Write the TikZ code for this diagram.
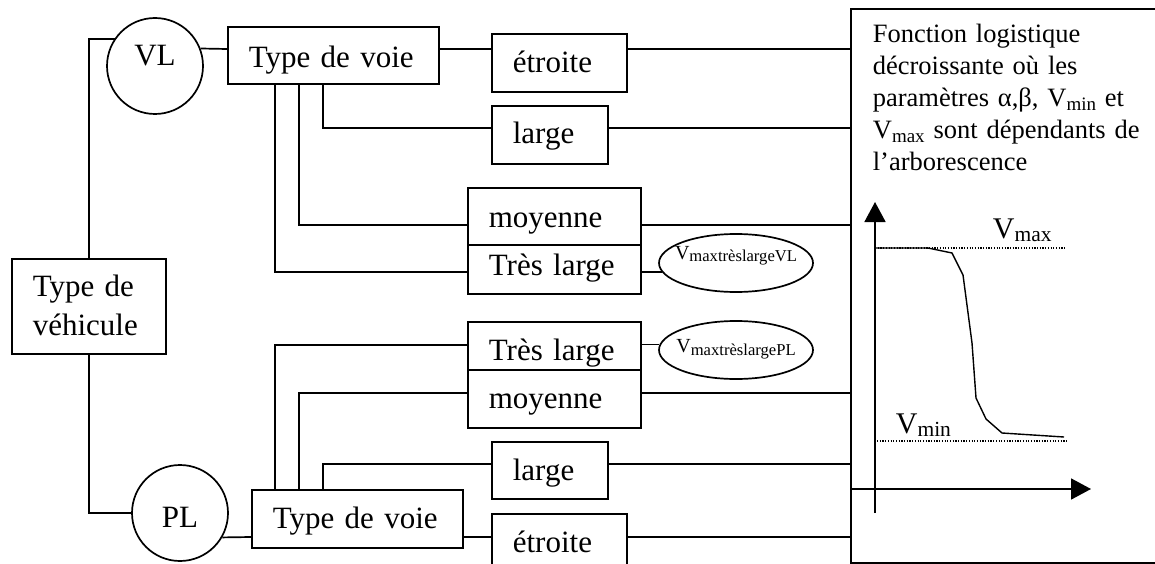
\documentclass[tikz,border=0pt]{standalone}
\usepackage{fontspec}
\setmainfont{Liberation Serif}
\usepackage{tikz}
\usetikzlibrary{arrows.meta,shapes.geometric,positioning,calc}
\newcommand{\fgrand}{\fontsize{31}{39}\selectfont}
\newcommand{\fmoyen}{\fontsize{26.5}{32}\selectfont}
\newcommand{\Vsub}[3]{{\fontsize{#1}{#1}\selectfont V\raisebox{-0.13em}{\fontsize{#2}{#2}\selectfont #3}}}

\begin{document}
\begin{tikzpicture}[x=1pt,y=-1pt,line width=1.7pt,
    boite/.style={draw,anchor=north west,inner xsep=21pt,inner ysep=0pt,align=left,font=\fgrand},
    rond/.style={draw,circle,minimum size=96pt,inner sep=0pt,font=\fgrand},
    ovale/.style={draw,ellipse,minimum width=154pt,minimum height=58pt,inner xsep=-16pt,inner ysep=0pt},
    fleche/.style={-{Triangle[length=20pt,width=21pt]}},
    pointille/.style={line width=1.2pt,dash pattern=on 1.2pt off 1.5pt}]
  \useasboundingbox (0,0) rectangle (1155,564);
  \clip (0,0) rectangle (1155,564);

  % Vehicle type and the two classes
  \node[boite,text width=112pt,text height=38pt,text depth=57pt] (veh) at (11,258) {Type de\\véhicule};
  \node[rond,text height=21pt,text depth=21pt] (VL) at (155,66) {VL};
  \node[rond,text height=29pt,text depth=0pt] (PL) at (180,513) {PL};

  % Right-hand box (its right side lies beyond the page)
  \node[anchor=north west,minimum width=360pt,minimum height=552pt,inner sep=0pt] (fn) at (851,9) {};
  \draw (fn.north east) -- (fn.north west) -- (fn.south west) -- (fn.south east);
  \node[anchor=north west,inner sep=0pt,align=left,text width=275pt,text height=33pt,font=\fmoyen] (fntxt) at (872,9)
    {Fonction logistique\\décroissante où les\\paramètres α,β, \Vsub{26.5}{19}{min} et\\\Vsub{26.5}{19}{max} sont dépendants de\\l’arborescence};

  % VL branch
  \node[boite,text width=169pt,text height=41pt,text depth=16pt] (tdvVL) at (227,26) {Type de voie};
  \node[boite,text width=93pt,text height=39pt,text depth=19pt] (etVL) at (491,33) {étroite};
  \node[boite,text width=74pt,text height=38pt,text depth=20pt] (lgVL) at (491,105) {large};
  \node[boite,text width=131pt,text height=40pt,text depth=17pt] (moVL) at (467,187) {moyenne};
  \node[boite,text width=131pt,text height=31pt,text depth=18pt] (tlVL) at (467,244) {Très large};
  \node[ovale,text height=10pt,text depth=18pt] (eVL) at (736,263) {\Vsub{20}{16.6}{maxtrèslargeVL}};

  % PL branch
  \node[boite,text width=131pt,text height=39pt,text depth=9pt] (tlPL) at (467,321) {Très large};
  \node[boite,text width=131pt,text height=39pt,text depth=19pt] (moPL) at (467,369) {moyenne};
  \node[boite,text width=74pt,text height=39pt,text depth=18pt] (lgPL) at (491,441) {large};
  \node[boite,text width=169pt,text height=39pt,text depth=19pt] (tdvPL) at (251,489) {Type de voie};
  \node[boite,text width=93pt,text height=39pt,text depth=19pt] (etPL) at (491,513) {étroite};
  \node[ovale,text height=12pt,text depth=7pt] (ePL) at (736,350) {\Vsub{20}{16.6}{maxtrèslargePL}};

  % Rows of the connectors
  \coordinate (rEtVL) at (0,49);
  \coordinate (rLgVL) at (0,128);
  \coordinate (rMoVL) at (0,225);
  \coordinate (rTlVL) at (0,272);
  \coordinate (rTlPL) at (0,345);
  \coordinate (rMoPL) at (0,393);
  \coordinate (rLgPL) at (0,464);
  \coordinate (rEtPL) at (0,537);

  % Connectors
  \draw (veh.north) |- (VL.146);
  \draw (veh.south) |- (PL.west);
  \draw (VL.21) -- (tdvVL.west |- rEtVL);
  \draw (tdvVL.east |- rEtVL) -- (etVL.west |- rEtVL);
  \draw ([xshift=96pt]tdvVL.south west) |- (lgVL.west |- rLgVL);
  \draw ([xshift=72pt]tdvVL.south west) |- (moVL.west |- rMoVL);
  \draw ([xshift=48pt]tdvVL.south west) |- (tlVL.west |- rTlVL);
  \draw (tlVL.east |- eVL.187) -- (eVL.187);
  \draw (PL.-30) -- (tdvPL.west |- rEtPL);
  \draw (tdvPL.east |- rEtPL) -- (etPL.west |- rEtPL);
  \draw ([xshift=24pt]tdvPL.north west) |- (tlPL.west |- rTlPL);
  \draw ([xshift=48pt]tdvPL.north west) |- (moPL.west |- rMoPL);
  \draw ([xshift=72pt]tdvPL.north west) |- (lgPL.west |- rLgPL);
  \draw (tlPL.east |- ePL.176) -- (ePL.176);
  \foreach \b/\r in {etVL/rEtVL,lgVL/rLgVL,moVL/rMoVL,moPL/rMoPL,lgPL/rLgPL,etPL/rEtPL}
    \draw (\b.east |- \r) -- (fn.west |- \r);

  % Axes
  \coordinate (orig) at (875,489);
  \draw[fleche] (orig) ++(0,24) -- (875,202);
  \draw[fleche] (fn.west |- orig) -- (1091,489);

  % Vmax and Vmin levels
  \draw[pointille] (875,248) -- (1066,248);
  \draw[pointille] (877,441) -- (1068,441);
  \node[anchor=base west,inner sep=0pt] (vmax) at (992,238) {\Vsub{30}{21.5}{max}};
  \node[anchor=base west,inner sep=0pt] (vmin) at (895,433) {\Vsub{30}{21.5}{min}};

  % Decreasing curve
  \draw[line width=1.4pt] (875,248) -- (928,248) -- (952,253) -- (963,275) -- (972,343)
    -- (976,398) -- (986,419) -- (1002,433) -- (1064,437);
\end{tikzpicture}
\end{document}
